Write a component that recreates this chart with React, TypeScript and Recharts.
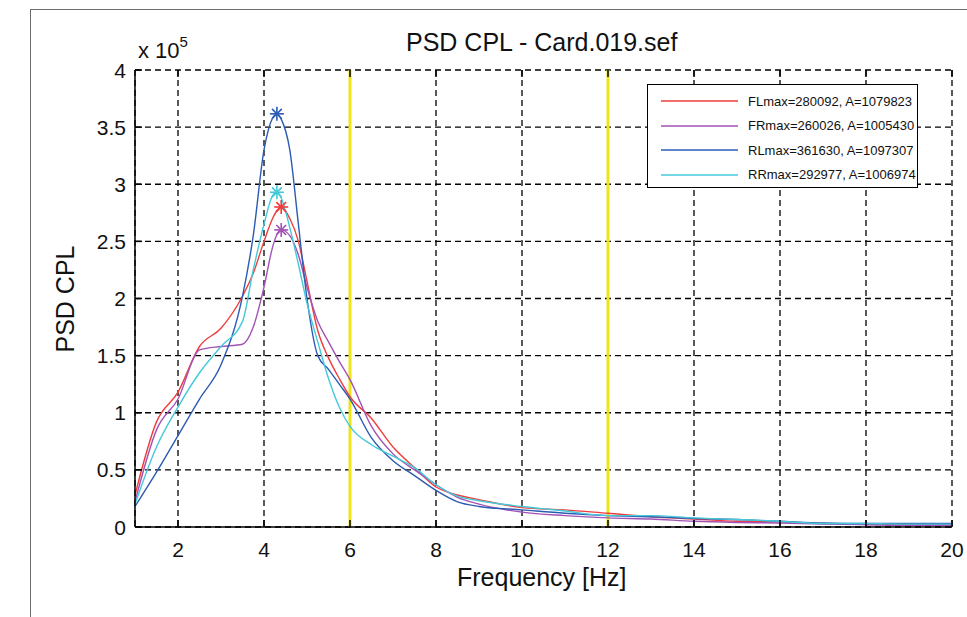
import React from 'react';
import {
  ComposedChart,
  Line,
  XAxis,
  YAxis,
  CartesianGrid,
  ReferenceLine,
  ReferenceDot,
} from 'recharts';

// frequency grid [Hz] and PSD values (x 10^5)
const freq = [1, 1.5, 2, 2.5, 3, 3.5, 3.75, 4, 4.2, 4.3, 4.4, 4.6, 4.8, 5, 5.25, 5.5, 5.75, 6, 6.5, 7, 7.5, 8, 8.5, 9, 10, 11, 12, 13, 14, 15, 16, 17, 18, 19, 20];
const fl = [0.28, 0.92, 1.18, 1.58, 1.74, 2.02, 2.22, 2.5, 2.7, 2.77, 2.8009, 2.7, 2.5, 2.15, 1.72, 1.48, 1.3, 1.14, 0.95, 0.7, 0.52, 0.35, 0.28, 0.24, 0.17, 0.15, 0.12, 0.09, 0.07, 0.05, 0.045, 0.03, 0.025, 0.02, 0.02];
const fr = [0.22, 0.85, 1.12, 1.55, 1.58, 1.6, 1.75, 2.1, 2.45, 2.56, 2.6003, 2.55, 2.38, 2.1, 1.8, 1.62, 1.45, 1.29, 0.88, 0.64, 0.5, 0.37, 0.26, 0.2, 0.13, 0.1, 0.08, 0.07, 0.05, 0.04, 0.035, 0.025, 0.02, 0.015, 0.015];
const rl = [0.18, 0.48, 0.8, 1.12, 1.42, 2.02, 2.55, 3.3, 3.58, 3.6163, 3.57, 3.3, 2.65, 2.0, 1.5, 1.38, 1.25, 1.12, 0.78, 0.58, 0.45, 0.32, 0.22, 0.18, 0.15, 0.12, 0.1, 0.09, 0.075, 0.065, 0.05, 0.035, 0.03, 0.03, 0.03];
const rr = [0.2, 0.7, 1.05, 1.35, 1.58, 1.8, 2.25, 2.65, 2.9, 2.9298, 2.88, 2.62, 2.3, 1.96, 1.62, 1.3, 1.05, 0.88, 0.72, 0.62, 0.52, 0.37, 0.27, 0.23, 0.18, 0.14, 0.1, 0.1, 0.08, 0.065, 0.05, 0.03, 0.03, 0.025, 0.025];

const seriesKeys = ['fl', 'fr', 'rl', 'rr'];
const seriesColors = ['#f03c3c', '#a352b5', '#2c5bb3', '#45c9d9'];
const legendLabels = [
  'FLmax=280092, A=1079823',
  'FRmax=260026, A=1005430',
  'RLmax=361630, A=1097307',
  'RRmax=292977, A=1006974',
];
const peakFreq = [4.4, 4.4, 4.3, 4.3];
const peakVal = [2.80092, 2.60026, 3.6163, 2.92977];

const xTicks = [2, 4, 6, 8, 10, 12, 14, 16, 18, 20];
const yTicks = [0, 0.5, 1, 1.5, 2, 2.5, 3, 3.5, 4];
const bandLimits = [6, 12];

const chartData = freq.map((f, i) => ({ f, fl: fl[i], fr: fr[i], rl: rl[i], rr: rr[i] }));

const FONT = '"Liberation Sans", Arial, sans-serif';
const PLOT_TOP = 70;

const XTick = (props: any) => {
  const { x, y, payload } = props;
  return (
    <g>
      <line x1={x} x2={x} y1={y} y2={y - 7} stroke="#000" strokeWidth={1.5} />
      <line x1={x} x2={x} y1={PLOT_TOP} y2={PLOT_TOP + 7} stroke="#000" strokeWidth={1.5} />
      <text x={x} y={y + 22} textAnchor="middle" dominantBaseline="central" fontSize={21} fontFamily={FONT} fill="#111">
        {payload.value}
      </text>
    </g>
  );
};

const YTick = (props: any) => {
  const { x, y, payload } = props;
  return (
    <g>
      <line x1={x} x2={x + 7} y1={y} y2={y} stroke="#000" strokeWidth={1.5} />
      <text x={x - 9} y={y} textAnchor="end" dominantBaseline="central" fontSize={21} fontFamily={FONT} fill="#111">
        {payload.value}
      </text>
    </g>
  );
};

const Asterisk = (color: string) => (props: any) => {
  const { cx, cy } = props;
  const r = 7;
  const d = r * 0.7;
  return (
    <g stroke={color} strokeWidth={1.6}>
      <line x1={cx - r} x2={cx + r} y1={cy} y2={cy} />
      <line x1={cx} x2={cx} y1={cy - r} y2={cy + r} />
      <line x1={cx - d} x2={cx + d} y1={cy - d} y2={cy + d} />
      <line x1={cx - d} x2={cx + d} y1={cy + d} y2={cy - d} />
    </g>
  );
};

export default function App() {
  return (
    <div style={{ position: 'absolute', left: 0, top: 0, width: 967, height: 617, background: '#fff', fontFamily: FONT, overflow: 'hidden' }}>
      {/* figure frame */}
      <div style={{ position: 'absolute', left: 30, top: 9, width: 960, height: 640, borderTop: '1px solid #6d6d6d', borderLeft: '1px solid #6d6d6d' }} />

      <div style={{ position: 'absolute', left: 0, top: 0 }}>
        <ComposedChart width={967} height={617} data={chartData} margin={{ top: PLOT_TOP, right: 15, bottom: 50, left: 75 }}>
          <CartesianGrid stroke="#000" strokeDasharray="6 4" strokeWidth={1.3} />
          <XAxis
            dataKey="f"
            type="number"
            domain={[1, 20]}
            ticks={xTicks}
            allowDataOverflow
            height={40}
            tickSize={0}
            tickMargin={0}
            tickLine={false}
            tick={<XTick />}
            axisLine={{ stroke: '#000', strokeWidth: 1.5 }}
          />
          <YAxis
            type="number"
            domain={[0, 4]}
            ticks={yTicks}
            allowDataOverflow
            width={60}
            tickSize={0}
            tickMargin={0}
            tickLine={false}
            tick={<YTick />}
            axisLine={{ stroke: '#000', strokeWidth: 1.5 }}
          />
          {bandLimits.map((b) => (
            <ReferenceLine key={b} x={b} stroke="#ede51a" strokeWidth={3} />
          ))}
          {seriesKeys.map((k, i) => (
            <Line
              key={k}
              type="monotone"
              dataKey={k}
              stroke={seriesColors[i]}
              strokeWidth={1.4}
              dot={false}
              isAnimationActive={false}
            />
          ))}
          {seriesKeys.map((k, i) => (
            <ReferenceDot key={'p' + k} x={peakFreq[i]} y={peakVal[i]} r={7} shape={Asterisk(seriesColors[i])} />
          ))}
        </ComposedChart>
      </div>

      {/* title and labels */}
      <div style={{ position: 'absolute', left: 406, top: 28, fontSize: 25, color: '#111', whiteSpace: 'nowrap' }}>
        PSD CPL - Card.019.sef
      </div>
      <div style={{ position: 'absolute', left: 138, top: 36, fontSize: 22, color: '#111' }}>
        x 10<sup style={{ fontSize: 15, position: 'relative', top: -3 }}>5</sup>
      </div>
      <div style={{ position: 'absolute', left: 457, top: 563, fontSize: 25, color: '#111', whiteSpace: 'nowrap' }}>Frequency [Hz]</div>
      <div
        style={{
          position: 'absolute',
          left: 65,
          top: 299,
          fontSize: 25,
          color: '#111',
          whiteSpace: 'nowrap',
          transform: 'translate(-50%, -50%) rotate(-90deg)',
        }}
      >
        PSD CPL
      </div>

      {/* legend */}
      <div style={{ position: 'absolute', left: 647, top: 84, width: 271, height: 104, border: '1.5px solid #000', background: '#fff', boxSizing: 'border-box' }}>
        {legendLabels.map((lab, i) => (
          <div key={lab} style={{ position: 'absolute', left: 0, top: 6 + i * 24.5, height: 20, display: 'flex', alignItems: 'center' }}>
            <svg width={100} height={20}>
              <line x1={13} x2={90} y1={10} y2={10} stroke={seriesColors[i]} strokeWidth={1.6} />
            </svg>
            <span style={{ fontSize: 13, color: '#111', whiteSpace: 'nowrap' }}>{lab}</span>
          </div>
        ))}
      </div>
    </div>
  );
}
